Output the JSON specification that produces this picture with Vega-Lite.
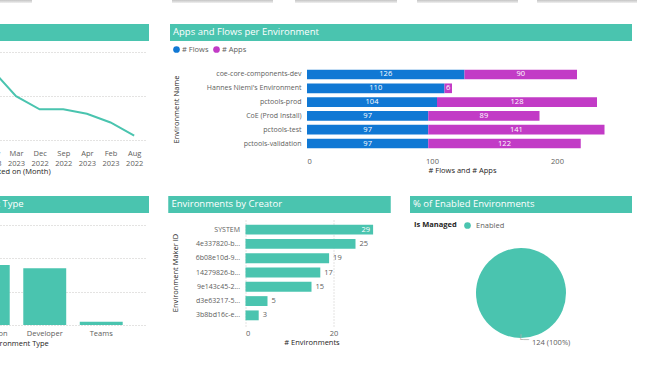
{
  "$schema": "https://vega.github.io/schema/vega-lite/v6.json",
  "background": "white",
  "padding": {"left": -134, "top": 0, "right": 0, "bottom": 0},
  "config": {
    "font": "Open Sans",
    "view": {"stroke": null},
    "title": {"anchor": "start", "offset": -12, "baseline": "alphabetic", "color": "white", "fontSize": 9.5, "fontWeight": "normal", "font": "Open Sans", "dx": 3},
    "axis": {"labelFont": "Open Sans", "titleFont": "Open Sans", "labelFontSize": 7.5, "titleFontSize": 7.5, "labelColor": "#605E5C", "titleColor": "#252423", "titleFontWeight": "normal", "domain": false, "ticks": false, "grid": false, "gridDash": [1, 2], "gridColor": "#C8C6C4"},
    "legend": {"labelFont": "Open Sans", "titleFont": "Open Sans"}
  },
  "columns": 1,
  "align": "none",
  "spacing": 21,
  "resolve": {"scale": {"color": "independent"}, "legend": {"color": "independent"}},
  "concat": [
    {
      "columns": 9,
      "align": "none",
      "spacing": 0,
      "data": {"values": [{}]},
      "concat": [
        {"width": 146, "height": 3, "mark": {"type": "rect", "color": {"gradient": "linear", "x1": 0, "y1": 0, "x2": 0, "y2": 1, "stops": [{"offset": 0, "color": "#C4C4C4"}, {"offset": 1, "color": "#F0F0F0"}]}}, "encoding": {}},
        {"width": 140, "height": 3, "mark": {"type": "rect", "opacity": 0}, "encoding": {}},
        {"width": 101, "height": 3, "mark": {"type": "rect", "color": {"gradient": "linear", "x1": 0, "y1": 0, "x2": 0, "y2": 1, "stops": [{"offset": 0, "color": "#C4C4C4"}, {"offset": 1, "color": "#F0F0F0"}]}}, "encoding": {}},
        {"width": 22, "height": 3, "mark": {"type": "rect", "opacity": 0}, "encoding": {}},
        {"width": 102, "height": 3, "mark": {"type": "rect", "color": {"gradient": "linear", "x1": 0, "y1": 0, "x2": 0, "y2": 1, "stops": [{"offset": 0, "color": "#C4C4C4"}, {"offset": 1, "color": "#F0F0F0"}]}}, "encoding": {}},
        {"width": 20, "height": 3, "mark": {"type": "rect", "opacity": 0}, "encoding": {}},
        {"width": 101, "height": 3, "mark": {"type": "rect", "color": {"gradient": "linear", "x1": 0, "y1": 0, "x2": 0, "y2": 1, "stops": [{"offset": 0, "color": "#C4C4C4"}, {"offset": 1, "color": "#F0F0F0"}]}}, "encoding": {}},
        {"width": 19, "height": 3, "mark": {"type": "rect", "opacity": 0}, "encoding": {}},
        {"width": 100, "height": 3, "mark": {"type": "rect", "color": {"gradient": "linear", "x1": 0, "y1": 0, "x2": 0, "y2": 1, "stops": [{"offset": 0, "color": "#C4C4C4"}, {"offset": 1, "color": "#F0F0F0"}]}}, "encoding": {}}
      ]
    },
    {
      "columns": 2,
      "align": "none",
      "spacing": 21,
      "resolve": {"scale": {"color": "independent"}, "legend": {"color": "independent"}},
      "concat": [
        {
          "columns": 1,
          "align": "none",
          "spacing": 7,
          "concat": [
            {"width": 263, "height": 17, "view": {"fill": "#4AC4AF", "stroke": null}, "data": {"values": [{}]}, "mark": {"type": "rect", "color": "#4AC4AF"}, "encoding": {}},
            {
              "width": 260, "height": 92,
              "data": {"values": [
                {"month": "Nov 2022", "n": 20}, {"month": "Jan 2023", "n": 19}, {"month": "Oct 2022", "n": 18}, {"month": "Jul 2022", "n": 17},
                {"month": "May 2023", "n": 16}, {"month": "Mar 2023", "n": 10}, {"month": "Dec 2022", "n": 7}, {"month": "Sep 2022", "n": 7},
                {"month": "Apr 2023", "n": 6}, {"month": "Feb 2023", "n": 4}, {"month": "Aug 2022", "n": 1}
              ]},
              "mark": {"type": "line", "color": "#4AC4AF", "strokeWidth": 2},
              "encoding": {
                "x": {"field": "month", "type": "ordinal", "sort": null, "scale": {"type": "point", "padding": 0.5},
                      "axis": {"title": "Created on (Month)", "labelExpr": "split(datum.label, ' ')", "labelAngle": 0, "labelPadding": 9, "labelLineHeight": 10, "titlePadding": 1}},
                "y": {"field": "n", "type": "quantitative", "scale": {"domain": [0, 21], "nice": false},
                      "axis": {"values": [0, 10, 20], "labels": false, "title": null, "grid": true}}
              }
            }
          ]
        },
        {
          "columns": 1,
          "align": "none",
          "spacing": 4,
          "resolve": {"scale": {"color": "independent"}, "legend": {"color": "independent"}},
          "concat": [
            {"width": 462, "height": 17, "view": {"fill": "#4AC4AF", "stroke": null}, "data": {"values": [{}]}, "mark": {"type": "rect", "color": "#4AC4AF"}, "encoding": {}, "title": {"text": "Apps and Flows per Environment"}},
            {
              "width": 462, "height": 90,
              "data": {"values": [
                {"env": "coe-core-components-dev", "series": "# Flows", "n": 126}, {"env": "coe-core-components-dev", "series": "# Apps", "n": 90},
                {"env": "Hannes Niemi's Environment", "series": "# Flows", "n": 110}, {"env": "Hannes Niemi's Environment", "series": "# Apps", "n": 6},
                {"env": "pctools-prod", "series": "# Flows", "n": 104}, {"env": "pctools-prod", "series": "# Apps", "n": 128},
                {"env": "CoE (Prod Install)", "series": "# Flows", "n": 97}, {"env": "CoE (Prod Install)", "series": "# Apps", "n": 89},
                {"env": "pctools-test", "series": "# Flows", "n": 97}, {"env": "pctools-test", "series": "# Apps", "n": 141},
                {"env": "pctools-validation", "series": "# Flows", "n": 97}, {"env": "pctools-validation", "series": "# Apps", "n": 122}
              ]},
              "transform": [{"stack": "n", "groupby": ["env"], "sort": [{"field": "series", "order": "descending"}], "as": ["v0", "v1"]}],
              "encoding": {
                "y": {"field": "env", "type": "nominal", "sort": null, "scale": {"paddingInner": 0.3, "paddingOuter": 0.41},
                      "axis": {"title": "Environment Name", "labelPadding": 6, "offset": -137, "titleX": -127, "labelFontSize": 7}}
              },
              "layer": [
                {
                  "mark": {"type": "bar"},
                  "encoding": {
                    "x": {"field": "v0", "type": "quantitative", "scale": {"domain": [0, 248], "nice": false, "range": [137, 447]},
                          "axis": {"title": "# Flows and # Apps", "values": [0, 100, 200], "labelPadding": 3, "titlePadding": 2}},
                    "x2": {"field": "v1"},
                    "color": {"field": "series", "type": "nominal", "scale": {"domain": ["# Flows", "# Apps"], "range": ["#1078D4", "#C23BC6"]},
                              "legend": {"title": null, "orient": "none", "legendX": 2, "legendY": -19, "direction": "horizontal", "symbolType": "circle", "symbolSize": 45, "labelFontSize": 7.5, "labelColor": "#605E5C", "columnPadding": 3, "labelOffset": 1}}
                  }
                },
                {
                  "transform": [{"fold": ["v0", "v1"], "as": ["k", "pos"]}],
                  "mark": {"type": "text", "color": "white", "fontSize": 7.5, "baseline": "middle"},
                  "encoding": {
                    "x": {"aggregate": "mean", "field": "pos", "type": "quantitative", "scale": {"domain": [0, 248], "nice": false, "range": [137, 447]},
                          "axis": {"title": "# Flows and # Apps", "values": [0, 100, 200], "labelPadding": 3, "titlePadding": 2}},
                    "text": {"field": "n", "type": "quantitative"},
                    "detail": {"field": "series"}
                  }
                }
              ]
            }
          ]
        }
      ]
    },
    {
      "columns": 3,
      "align": "none",
      "spacing": 19.5,
      "resolve": {"scale": {"color": "independent"}, "legend": {"color": "independent"}},
      "concat": [
        {
          "columns": 1,
          "align": "none",
          "spacing": 4,
          "concat": [
            {"width": 263, "height": 17, "view": {"fill": "#4AC4AF", "stroke": null}, "data": {"values": [{}]}, "mark": {"type": "rect", "color": "#4AC4AF"}, "encoding": {}, "title": {"text": "Environments by Environment Type", "dx": -20}},
            {
              "width": 261, "height": 108,
              "data": {"values": [
                {"type": "Sandbox", "n": 30}, {"type": "Production", "n": 18}, {"type": "Developer", "n": 17}, {"type": "Teams", "n": 1}
              ]},
              "mark": {"type": "bar", "color": "#4AC4AF"},
              "encoding": {
                "x": {"field": "type", "type": "nominal", "sort": null, "scale": {"paddingInner": 0.24, "paddingOuter": 0.43},
                      "axis": {"title": "Environment Type", "labelAngle": 0, "labelPadding": 4, "titlePadding": 3}},
                "y": {"field": "n", "type": "quantitative", "scale": {"domain": [0, 32.4], "nice": false},
                      "axis": {"values": [0, 10, 20, 30], "labels": false, "title": null, "grid": true}}
              }
            }
          ]
        },
        {
          "columns": 1,
          "align": "none",
          "spacing": 6,
          "concat": [
            {"width": 222, "height": 17, "view": {"fill": "#4AC4AF", "stroke": null}, "data": {"values": [{}]}, "mark": {"type": "rect", "color": "#4AC4AF"}, "encoding": {}, "title": {"text": "Environments by Creator"}},
            {
              "width": 222, "height": 107,
              "data": {"values": [
                {"maker": "SYSTEM", "n": 29}, {"maker": "4e337820-b...", "n": 25}, {"maker": "6b08e10d-9...", "n": 19},
                {"maker": "14279826-b...", "n": 17}, {"maker": "9e143c45-2...", "n": 15}, {"maker": "d3e63217-5...", "n": 5}, {"maker": "3b8bd16c-e...", "n": 3}
              ]},
              "encoding": {
                "y": {"field": "maker", "type": "nominal", "sort": null, "scale": {"paddingInner": 0.31, "paddingOuter": 0.4},
                      "axis": {"title": "Environment Maker ID", "labelPadding": 6, "offset": -77, "titleX": -66, "labelFontSize": 7}},
                "x": {"field": "n", "type": "quantitative", "scale": {"domain": [0, 30], "nice": false, "range": [77, 209]},
                      "axis": {"title": "# Environments", "values": [0, 20], "grid": true, "labelPadding": 3, "titlePadding": 2}}
              },
              "layer": [
                {"mark": {"type": "bar", "color": "#4AC4AF"}},
                {"transform": [{"filter": "datum.n >= 29"}], "mark": {"type": "text", "align": "right", "dx": -3, "color": "white", "fontSize": 7.5, "baseline": "middle"}, "encoding": {"text": {"field": "n", "type": "quantitative"}}},
                {"transform": [{"filter": "datum.n < 29"}], "mark": {"type": "text", "align": "left", "dx": 4, "color": "#605E5C", "fontSize": 7.5, "baseline": "middle"}, "encoding": {"text": {"field": "n", "type": "quantitative"}}}
              ]
            }
          ]
        },
        {
          "columns": 1,
          "align": "none",
          "spacing": 8,
          "resolve": {"scale": {"color": "independent"}, "legend": {"color": "independent"}},
          "concat": [
            {"width": 222, "height": 17, "view": {"fill": "#4AC4AF", "stroke": null}, "data": {"values": [{}]}, "mark": {"type": "rect", "color": "#4AC4AF"}, "encoding": {}, "title": {"text": "% of Enabled Environments"}},
            {
              "width": 222, "height": 126,
              "data": {"values": [{"managed": "Enabled", "n": 124, "label": "124 (100%)"}]},
              "encoding": {"theta": {"field": "n", "type": "quantitative", "stack": true}},
              "layer": [
                {
                  "mark": {"type": "arc", "outerRadius": 45},
                  "encoding": {
                    "color": {"field": "managed", "type": "nominal", "scale": {"range": ["#4AC4AF"]},
                              "legend": {"title": "Is Managed", "orient": "none", "legendX": 4, "legendY": -9, "titleOrient": "left", "direction": "horizontal", "symbolType": "circle", "symbolSize": 45, "titleFontSize": 7.5, "titleFontWeight": "bold", "titleColor": "#252423", "labelFontSize": 7.5, "labelColor": "#605E5C", "titlePadding": 6}}
                  }
                },
                {"mark": {"type": "text", "radius": 50, "align": "left", "dx": 11, "fontSize": 7.5, "color": "#605E5C", "baseline": "middle"}, "encoding": {"text": {"field": "label"}}},
                {"mark": {"type": "text", "radius": 47, "align": "left", "dx": -3, "fontSize": 9, "font": "DejaVu Sans", "color": "#B3B0AD", "baseline": "middle"}, "encoding": {"text": {"value": "└─"}}}
              ]
            }
          ]
        }
      ]
    }
  ]
}
